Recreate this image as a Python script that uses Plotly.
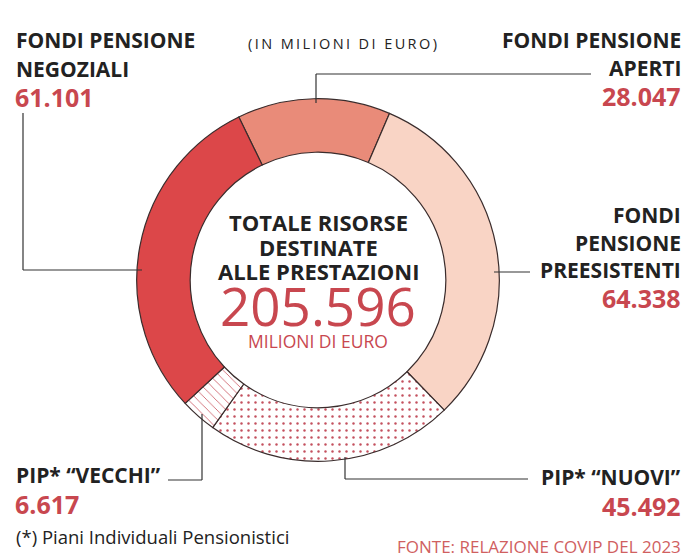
import plotly.graph_objects as go

W, H = 696, 557

# ---- data (clockwise from the top) ----
labels = ["Fondi pensione aperti", "Fondi pensione preesistenti", "PIP* \u201cnuovi\u201d",
          "PIP* \u201cvecchi\u201d", "Fondi pensione negoziali"]
values = [28047, 64338, 45492, 6617, 61101]
value_text = ["28.047", "64.338", "45.492", "6.617", "61.101"]
total_text = "205.596"

RED = "#c8474f"
DARK = "#222222"
colors = ["#e98b79", "#f9d4c5", "#c4505e", "#c9505b", "#dc4749"]
shapes_pat = ["", "", ".", "\\", ""]

fig = go.Figure()

# pixel -> paper helpers
px = lambda x: x / W
py = lambda y: 1 - y / H

cx, cy, R = 318, 280, 176
Rd = R * 1.03  # plotly draws the pie slightly inside its domain
fig.add_trace(go.Pie(
    labels=labels, values=values, sort=False, direction="clockwise",
    rotation=-25.9, hole=0.705, textinfo="none", hoverinfo="label+value",
    showlegend=False,
    marker=dict(colors=colors, line=dict(color="#3a2c2c", width=1.2),
                pattern=dict(shape=shapes_pat, fillmode="replace",
                             bgcolor=["white"] * 5, size=[7, 7, 7, 6.5, 7],
                             solidity=[0.3, 0.3, 0.1, 0.12, 0.3])),
    domain=dict(x=[px(cx - Rd), px(cx + Rd)], y=[py(cy + Rd), py(cy - Rd)]),
))

FONT = "Open Sans"
ann = []
def T(x, y, text, size, color=DARK, bold=True, xanchor="left", family=FONT):
    ann.append(dict(x=px(x), y=py(y), xref="paper", yref="paper", text=text,
                    showarrow=False, xanchor=xanchor, yanchor="middle",
                    font=dict(family=family, size=size, color=color,
                              weight="bold" if bold else "normal")))

# left top
T(14, 40, "FONDI PENSIONE", 21)
T(14, 69, "NEGOZIALI", 21)
T(13, 97, value_text[4], 25, RED)
# top middle (letter-spaced)
unit = "(IN MILIONI DI EURO)"
T(342, 43, "\u2009".join(unit), 14.5, bold=False, xanchor="center")
# right top
T(683, 40, "FONDI PENSIONE", 21, xanchor="right")
T(683, 68, "APERTI", 21, xanchor="right")
T(683, 96, value_text[0], 25, RED, xanchor="right")
# right middle
T(683, 215, "FONDI", 21, xanchor="right")
T(683, 243, "PENSIONE", 21, xanchor="right")
T(683, 270, "PREESISTENTI", 21, xanchor="right")
T(683, 298, value_text[1], 25, RED, xanchor="right")
# right bottom
T(683, 477, "PIP* \u201cNUOVI\u201d", 21, xanchor="right")
T(683, 506, value_text[2], 25, RED, xanchor="right")
T(683, 546, "FONTE: RELAZIONE COVIP DEL 2023", 17, "#d0605f", bold=False, xanchor="right")
# left bottom
T(14, 475, "PIP* \u201cVECCHI\u201d", 21)
T(13, 504, value_text[3], 25, RED)
T(14, 536, "(*) Piani Individuali Pensionistici", 18.5, bold=False)
# center
T(318, 222, "TOTALE RISORSE", 22, xanchor="center")
T(318, 247, "DESTINATE", 22, xanchor="center")
T(318, 271, "ALLE PRESTAZIONI", 22, xanchor="center")
T(318, 305, total_text, 53, RED, bold=False, xanchor="center")
T(318, 341, "MILIONI DI EURO", 17.5, RED, bold=False, xanchor="center")

# leader lines
LC = "#333333"
lines = [
    [(23, 113), (23, 270), (142, 270)],
    [(316, 103), (316, 74), (591, 74)],
    [(494, 272), (530, 272)],
    [(202, 414), (202, 480), (168, 480)],
    [(345, 457), (345, 479), (528, 479)],
]
shp = []
for pts in lines:
    for (x0, y0), (x1, y1) in zip(pts[:-1], pts[1:]):
        shp.append(dict(type="line", xref="paper", yref="paper",
                        x0=px(x0), y0=py(y0), x1=px(x1), y1=py(y1),
                        line=dict(color=LC, width=1.2)))

fig.update_layout(width=W, height=H, margin=dict(l=0, r=0, t=0, b=0),
                  paper_bgcolor="white", plot_bgcolor="white",
                  annotations=ann, shapes=shp)
fig.write_html("out.html", config={"displayModeBar": False},
               post_script="document.body.style.margin='0';document.body.style.padding='0';")
